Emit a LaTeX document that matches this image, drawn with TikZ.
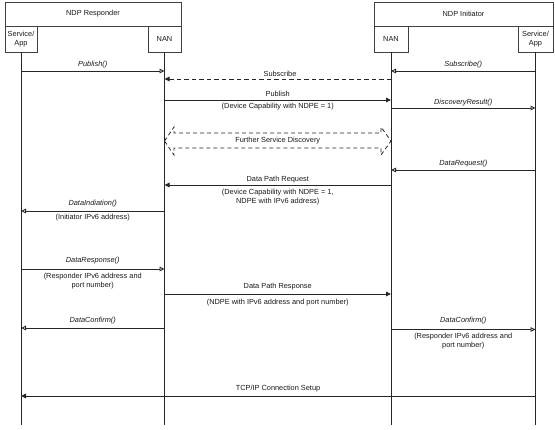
\documentclass[tikz,border=0pt]{standalone}
\usepackage{fontspec}
\setmainfont{Liberation Sans}
\usetikzlibrary{arrows.meta}
\begin{document}
\begin{tikzpicture}[x=1bp,y=-1bp,
  every node/.style={font=\fontsize{7.4}{9}\selectfont, inner sep=0pt, text=black!90},
  box/.style={draw=black!75, line width=0.8bp, align=center},
  life/.style={draw=black!85, line width=0.9bp},
  msg/.style={draw=black!85, line width=0.9bp},
  openhead/.style={-{Triangle[open,length=5bp,width=4.5bp]}},
  fullhead/.style={-{Triangle[length=5bp,width=4.5bp]}},
  dashline/.style={dash pattern=on 4.5bp off 3bp},
  shapedash/.style={dash pattern=on 4bp off 3bp},
  fn/.style={font=\fontsize{7.4}{9}\selectfont\itshape},
  note/.style={align=center, anchor=north},
]
\useasboundingbox (0,0) rectangle (555,429);
\fill[white] (0,0) rectangle (555,429);

% participants
\node[box, minimum width=176bp, minimum height=24bp] (resp) at (93,14) {NDP Responder};
\node[box, minimum width=32bp, minimum height=26bp] (sl) at (21,39) {Service/\\App};
\node[box, minimum width=33bp, minimum height=26bp] (nl) at (164.5,39) {NAN};
\node[box, minimum width=179bp, minimum height=24bp] (init) at (463.5,14) {NDP Initiator};
\node[box, minimum width=34bp, minimum height=26bp] (nr) at (391,39) {NAN};
\node[box, minimum width=35bp, minimum height=26bp] (sr) at (535.5,39) {Service/\\App};

% lifelines
\coordinate (slend) at (21,425);
\coordinate (nlend) at (164.5,425);
\coordinate (nrend) at (391,425);
\coordinate (srend) at (535.5,425);
\draw[life] (sl.south) -- (slend);
\draw[life] (nl.south) -- (nlend);
\draw[life] (nr.south) -- (nrend);
\draw[life] (sr.south) -- (srend);

% 1 Publish()
\coordinate (m1a) at (21,71); \coordinate (m1b) at (164.5,71);
\draw[msg, openhead] (m1a) -- (m1b);
\node[fn] (t1) at (92.75,65) {Publish()};
% 2 Subscribe()
\coordinate (m2a) at (535.5,71); \coordinate (m2b) at (391,71);
\draw[msg, openhead] (m2a) -- (m2b);
\node[fn] (t2) at (463.25,65) {Subscribe()};
% 3 Subscribe (dashed)
\coordinate (m3a) at (391,79); \coordinate (m3b) at (164.5,79);
\draw[msg, dashline, fullhead] (m3a) -- (m3b);
\node (t3) at (280,74) {Subscribe};
% 4 Publish
\coordinate (m4a) at (164.5,100); \coordinate (m4b) at (391,100);
\draw[msg, fullhead] (m4a) -- (m4b);
\node (t4) at (277.75,94) {Publish};
\node[note] (n4) at (277.75,103) {(Device Capability with NDPE = 1)};
% 5 DiscoveryResult()
\coordinate (m5a) at (391,108); \coordinate (m5b) at (535.5,108);
\draw[msg, openhead] (m5a) -- (m5b);
\node[fn] (t5) at (463.25,102.5) {DiscoveryResult()};
% 6 Further Service Discovery (dashed double block arrow)
\draw[msg, shapedash, line width=0.8bp]
  (164.5,141) -- (174,127) -- (174,133) -- (381,133) -- (381,127) -- (391,141)
  -- (381,155) -- (381,148) -- (174,148) -- (174,155) -- cycle;
\node (t6) at (277.75,141) {Further Service Discovery};
% 7 DataRequest()
\coordinate (m7a) at (535.5,170); \coordinate (m7b) at (391,170);
\draw[msg, openhead] (m7a) -- (m7b);
\node[fn] (t7) at (463.25,163.5) {DataRequest()};
% 8 Data Path Request
\coordinate (m8a) at (391,185); \coordinate (m8b) at (164.5,185);
\draw[msg, fullhead] (m8a) -- (m8b);
\node (t8) at (277.75,179.5) {Data Path Request};
\node[note] (n8) at (277.75,188.5) {(Device Capability with NDPE = 1,\\NDPE with IPv6 address)};
% 9 DataIndiation()
\coordinate (m9a) at (164.5,211); \coordinate (m9b) at (21,211);
\draw[msg, openhead] (m9a) -- (m9b);
\node[fn] (t9) at (92.75,203.5) {DataIndiation()};
\node[note] (n9) at (92.75,214) {(Initiator IPv6 address)};
% 10 DataResponse()
\coordinate (m10a) at (21,269); \coordinate (m10b) at (164.5,269);
\draw[msg, openhead] (m10a) -- (m10b);
\node[fn] (t10) at (92.75,261) {DataResponse()};
\node[note] (n10) at (92.75,272.5) {(Responder IPv6 address and\\port number)};
% 11 Data Path Response
\coordinate (m11a) at (164.5,294); \coordinate (m11b) at (391,294);
\draw[msg, fullhead] (m11a) -- (m11b);
\node (t11) at (277.75,286.5) {Data Path Response};
\node[note] (n11) at (277.75,298.5) {(NDPE with IPv6 address and port number)};
% 12 DataConfirm() left
\coordinate (m12a) at (164.5,328); \coordinate (m12b) at (21,328);
\draw[msg, openhead] (m12a) -- (m12b);
\node[fn] (t12) at (92.75,321) {DataConfirm()};
% 13 DataConfirm() right
\coordinate (m13a) at (391,329.5); \coordinate (m13b) at (535.5,329.5);
\draw[msg, openhead] (m13a) -- (m13b);
\node[fn] (t13) at (463.25,321) {DataConfirm()};
\node[note] (n13) at (463.25,333) {(Responder IPv6 address and\\port number)};
% 14 TCP/IP Connection Setup
\coordinate (m14a) at (535.5,396); \coordinate (m14b) at (21,396);
\draw[msg, fullhead] (m14a) -- (m14b);
\node (t14) at (278,388.5) {TCP/IP Connection Setup};
\end{tikzpicture}
\end{document}
